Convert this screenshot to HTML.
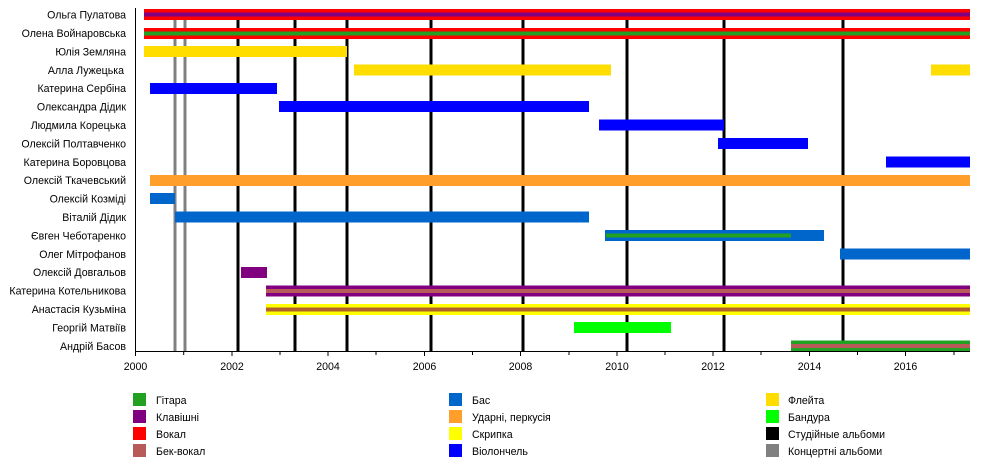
<!DOCTYPE html>
<html><head><meta charset="utf-8"><style>
html,body{margin:0;padding:0;background:#fff;}
svg{display:block;}
text{font-family:"Liberation Sans",Arial,sans-serif;font-size:10.6px;fill:#000;}
</style></head><body>
<svg width="1000" height="475" xmlns="http://www.w3.org/2000/svg">
<g stroke-width="3">
<line x1="175" y1="20" x2="175" y2="351" stroke="#808080"/>
<line x1="185" y1="20" x2="185" y2="351" stroke="#808080"/>
<line x1="238" y1="20" x2="238" y2="351" stroke="#000"/>
<line x1="295" y1="20" x2="295" y2="351" stroke="#000"/>
<line x1="347" y1="20" x2="347" y2="351" stroke="#000"/>
<line x1="431" y1="20" x2="431" y2="351" stroke="#000"/>
<line x1="523" y1="20" x2="523" y2="351" stroke="#000"/>
<line x1="627" y1="20" x2="627" y2="351" stroke="#000"/>
<line x1="724" y1="20" x2="724" y2="351" stroke="#000"/>
<line x1="843" y1="20" x2="843" y2="351" stroke="#000"/>
</g>
<g>
<rect x="144" y="9" width="826" height="11" fill="#ff0000"/>
<rect x="144" y="12.5" width="826" height="4" fill="#800080"/>
<rect x="144" y="28" width="826" height="11" fill="#ff0000"/>
<rect x="144" y="31.5" width="826" height="4" fill="#22a022"/>
<rect x="144" y="46" width="203" height="11" fill="#ffdd00"/>
<rect x="354" y="64.5" width="257" height="11" fill="#ffdd00"/>
<rect x="931" y="64.5" width="39" height="11" fill="#ffdd00"/>
<rect x="150" y="83" width="127" height="11" fill="#0000ff"/>
<rect x="279" y="101" width="310" height="11" fill="#0000ff"/>
<rect x="599" y="119.5" width="125" height="11" fill="#0000ff"/>
<rect x="718" y="138" width="90" height="11" fill="#0000ff"/>
<rect x="886" y="156.5" width="84" height="11" fill="#0000ff"/>
<rect x="150" y="175" width="820" height="11" fill="#ff9e2a"/>
<rect x="150" y="193" width="25" height="11" fill="#0066cc"/>
<rect x="175" y="211.5" width="414" height="11" fill="#0066cc"/>
<rect x="605" y="230" width="219" height="11" fill="#0066cc"/>
<rect x="606" y="233.5" width="185" height="4" fill="#22a022"/>
<rect x="840" y="248.5" width="130" height="11" fill="#0066cc"/>
<rect x="241" y="267" width="26" height="11" fill="#800080"/>
<rect x="266" y="285.5" width="704" height="11" fill="#800080"/>
<rect x="266" y="289" width="704" height="4" fill="#b85a5a"/>
<rect x="266" y="304" width="704" height="11" fill="#ffff00"/>
<rect x="266" y="307.5" width="704" height="4" fill="#b0602a"/>
<rect x="574" y="322" width="97" height="11" fill="#00ff00"/>
<rect x="791" y="340.5" width="179" height="11" fill="#22a022"/>
<rect x="791" y="344" width="179" height="4" fill="#b85a5a"/>
</g>
<line x1="135.5" y1="8" x2="135.5" y2="352" stroke="#000" stroke-width="1"/>
<line x1="135" y1="351.5" x2="970" y2="351.5" stroke="#000" stroke-width="1"/>
<g stroke="#000" stroke-width="1">
<line x1="135.5" y1="352" x2="135.5" y2="356"/><line x1="183.7" y1="352" x2="183.7" y2="355"/>
<line x1="232" y1="352" x2="232" y2="356"/><line x1="280" y1="352" x2="280" y2="355"/>
<line x1="328" y1="352" x2="328" y2="356"/><line x1="376" y1="352" x2="376" y2="355"/>
<line x1="424.5" y1="352" x2="424.5" y2="356"/><line x1="472.5" y1="352" x2="472.5" y2="355"/>
<line x1="520.5" y1="352" x2="520.5" y2="356"/><line x1="569" y1="352" x2="569" y2="355"/>
<line x1="617" y1="352" x2="617" y2="356"/><line x1="665" y1="352" x2="665" y2="355"/>
<line x1="713" y1="352" x2="713" y2="356"/><line x1="761" y1="352" x2="761" y2="355"/>
<line x1="809.5" y1="352" x2="809.5" y2="356"/><line x1="857.5" y1="352" x2="857.5" y2="355"/>
<line x1="905.5" y1="352" x2="905.5" y2="356"/><line x1="954" y1="352" x2="954" y2="355"/>
</g>
<g text-anchor="middle">
<text x="135.5" y="370">2000</text><text x="232" y="370">2002</text><text x="328" y="370">2004</text>
<text x="424.5" y="370">2006</text><text x="520.5" y="370">2008</text><text x="617" y="370">2010</text>
<text x="713" y="370">2012</text><text x="809.5" y="370">2014</text><text x="905.5" y="370">2016</text>
</g>
<g text-anchor="end">
<text x="126" y="18.5">Ольга Пулатова</text>
<text x="126" y="37">Олена Войнаровська</text>
<text x="126" y="55.5">Юлія Земляна</text>
<text x="124" y="74">Алла Лужецька</text>
<text x="126" y="92">Катерина Сербіна</text>
<text x="126" y="110.5">Олександра Дідик</text>
<text x="126" y="129">Людмила Корецька</text>
<text x="126" y="147.5">Олексій Полтавченко</text>
<text x="126" y="166">Катерина Боровцова</text>
<text x="126" y="184">Олексій Ткачевський</text>
<text x="126" y="202.5">Олексій Козміді</text>
<text x="126" y="221">Віталій Дідик</text>
<text x="126" y="239.5">Євген Чеботаренко</text>
<text x="126" y="258">Олег Мітрофанов</text>
<text x="126" y="276">Олексій Довгальов</text>
<text x="126" y="294.5">Катерина Котельникова</text>
<text x="126" y="313">Анастасія Кузьміна</text>
<text x="126" y="331.5">Георгій Матвіїв</text>
<text x="126" y="350">Андрій Басов</text>
</g>
<g>
<rect x="133" y="393" width="13" height="13" fill="#22a022"/><text x="156" y="404">Гітара</text>
<rect x="133" y="410" width="13" height="13" fill="#800080"/><text x="156" y="421">Клавішні</text>
<rect x="133" y="427" width="13" height="13" fill="#ff0000"/><text x="156" y="438">Вокал</text>
<rect x="133" y="444" width="13" height="13" fill="#b85a5a"/><text x="156" y="455">Бек-вокал</text>
<rect x="449" y="393" width="13" height="13" fill="#0066cc"/><text x="472" y="404">Бас</text>
<rect x="449" y="410" width="13" height="13" fill="#ff9e2a"/><text x="472" y="421">Ударні, перкусія</text>
<rect x="449" y="427" width="13" height="13" fill="#ffff00"/><text x="472" y="438">Скрипка</text>
<rect x="449" y="444" width="13" height="13" fill="#0000ff"/><text x="472" y="455">Віолончель</text>
<rect x="766" y="393" width="13" height="13" fill="#ffdd00"/><text x="788" y="404">Флейта</text>
<rect x="766" y="410" width="13" height="13" fill="#00ff00"/><text x="788" y="421">Бандура</text>
<rect x="766" y="427" width="13" height="13" fill="#000000"/><text x="788" y="438">Студійные альбоми</text>
<rect x="766" y="444" width="13" height="13" fill="#808080"/><text x="788" y="455">Концертні альбоми</text>
</g>
</svg>
</body></html>
